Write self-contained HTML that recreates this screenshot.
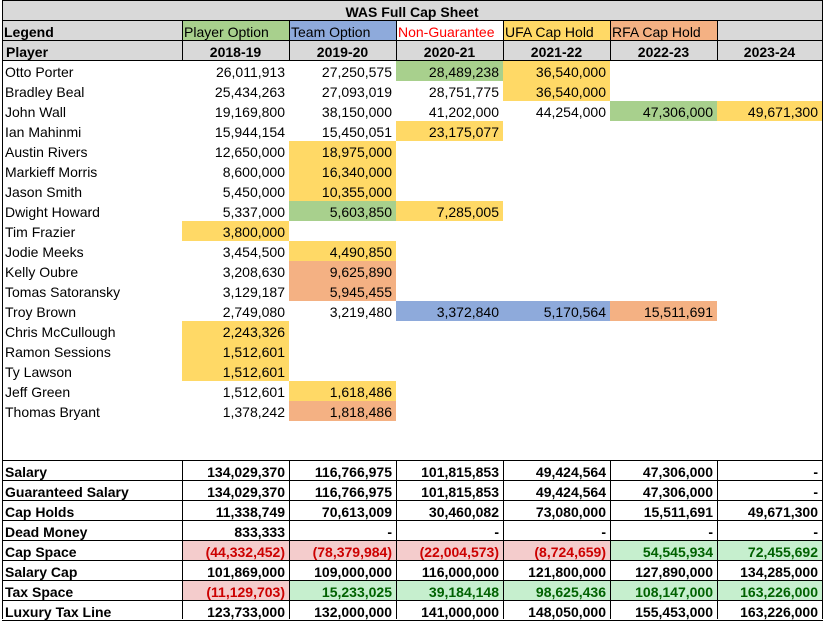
<!DOCTYPE html>
<html><head><meta charset="utf-8"><style>
body{margin:0;width:825px;height:619px;overflow:hidden;background:#fff;font-family:"Liberation Sans",Arial,sans-serif;font-size:14px;color:#000}
#sheet{position:absolute;left:0;top:0;width:825px;height:619px}
.c{position:absolute;box-sizing:border-box;height:20px;line-height:21px;padding:1px 4px 0 4px;white-space:nowrap;overflow:hidden}
.r{text-align:right}.ctr{text-align:center}.b{font-weight:bold}
.line{position:absolute;background:#000}
</style></head><body>
<div id="sheet"></div>
<script>
const colX=[2,182,289,396,503,610,717,822];
const seasons=["2018-19","2019-20","2020-21","2021-22","2022-23","2023-24"];
const players=["Otto Porter","Bradley Beal","John Wall","Ian Mahinmi","Austin Rivers","Markieff Morris","Jason Smith","Dwight Howard","Tim Frazier","Jodie Meeks","Kelly Oubre","Tomas Satoransky","Troy Brown","Chris McCullough","Ramon Sessions","Ty Lawson","Jeff Green","Thomas Bryant"];
const salaries=[
["26,011,913","27,250,575","28,489,238","36,540,000","",""],
["25,434,263","27,093,019","28,751,775","36,540,000","",""],
["19,169,800","38,150,000","41,202,000","44,254,000","47,306,000","49,671,300"],
["15,944,154","15,450,051","23,175,077","","",""],
["12,650,000","18,975,000","","","",""],
["8,600,000","16,340,000","","","",""],
["5,450,000","10,355,000","","","",""],
["5,337,000","5,603,850","7,285,005","","",""],
["3,800,000","","","","",""],
["3,454,500","4,490,850","","","",""],
["3,208,630","9,625,890","","","",""],
["3,129,187","5,945,455","","","",""],
["2,749,080","3,219,480","3,372,840","5,170,564","15,511,691",""],
["2,243,326","","","","",""],
["1,512,601","","","","",""],
["1,512,601","","","","",""],
["1,512,601","1,618,486","","","",""],
["1,378,242","1,818,486","","","",""]];
const statuses=[
"..GY..","...Y..","....GY","..Y...",".Y....",".Y....",".Y....",".GY...","Y.....",".Y....",".O....",".O....","..BBO.","Y.....","Y.....","Y.....",".Y....",".O...."];
const sumLabels=["Salary","Guaranteed Salary","Cap Holds","Dead Money","Cap Space","Salary Cap","Tax Space","Luxury Tax Line"];
const sumValues=[
["134,029,370","116,766,975","101,815,853","49,424,564","47,306,000","-"],
["134,029,370","116,766,975","101,815,853","49,424,564","47,306,000","-"],
["11,338,749","70,613,009","30,460,082","73,080,000","15,511,691","49,671,300"],
["833,333","-","-","-","-","-"],
["(44,332,452)","(78,379,984)","(22,004,573)","(8,724,659)","54,545,934","72,455,692"],
["101,869,000","109,000,000","116,000,000","121,800,000","127,890,000","134,285,000"],
["(11,129,703)","15,233,025","39,184,148","98,625,436","108,147,000","163,226,000"],
["123,733,000","132,000,000","141,000,000","148,050,000","155,453,000","163,226,000"]];
const fills={G:"#a8d08d",Y:"#ffd966",O:"#f4b183",B:"#8eaadb"};
const S=document.getElementById('sheet');
function cell(x,y,w,txt,cls,bg,color){
  const d=document.createElement('div');
  d.className='c '+(cls||'');
  d.style.left=x+'px';d.style.top=y+'px';d.style.width=w+'px';
  if(bg)d.style.background=bg;
  if(color)d.style.color=color;
  d.textContent=txt;
  S.appendChild(d);return d;
}
function line(x,y,w,h){
  const l=document.createElement('div');
  l.className='line';
  
  
  l.style.left=x+'px';l.style.top=y+'px';l.style.width=w+'px';l.style.height=h+'px';
  S.appendChild(l);
}
let t=cell(2,1,820,"WAS Full Cap Sheet","ctr b","#d9d9d9");


const legTxt=["Legend","Player Option","Team Option","Non-Guarantee","UFA Cap Hold","RFA Cap Hold",""];
const legBg=["#d9d9d9","#a8d08d","#8eaadb","#ffffff","#ffd966","#f4b183","#d9d9d9"];
for(let i=0;i<7;i++){
  const d=cell(colX[i],21,colX[i+1]-colX[i],legTxt[i],i==0?'b':'',legBg[i],i==3?'#ff0000':null);
  d.style.paddingLeft='2px';
  
  
}
let h=cell(2,41,180,"Player","b","#d9d9d9");


seasons.forEach((s,i)=>{
  const d=cell(colX[i+1],41,colX[i+2]-colX[i+1],s,"ctr b","#d9d9d9");
  
  
});
players.forEach((p,r)=>{
  const y=61+r*20;
  const n=cell(2,y,180,p,"");n.style.paddingLeft='3px';
  
  
  salaries[r].forEach((v,c)=>{
    const f=fills[statuses[r][c]];
    const d=cell(colX[c+1],y,colX[c+2]-colX[c+1],v,"r",f||null);
    
    
  });
});
sumLabels.forEach((lab,r)=>{
  const y=461+r*20;
  const n=cell(2,y,180,lab,"b");n.style.paddingLeft='3px';
  
  
  sumValues[r].forEach((v,c)=>{
    let bg=null,col=null;
    if(lab=="Cap Space"||lab=="Tax Space"){
      if(v.startsWith("(")){bg="#f4cccc";col="#cc0000";}else{bg="#c6efce";col="#006100";}
    }
    const d=cell(colX[c+1],y,colX[c+2]-colX[c+1],v,"r b",bg,col);
    
    
  });
});
line(2,0,821,1);line(2,20,821,1);line(2,40,821,1);line(2,60,821,1);
line(2,0,1,619);line(822,0,1,619);
for(let i=1;i<7;i++){line(colX[i],40,1,21);}
for(let i=1;i<7;i++){line(colX[i],21,1,20);}
for(let r=0;r<=8;r++){line(2,460+r*20,821,1);}
for(let i=1;i<7;i++){line(colX[i],460,1,159);}
</script>
</body></html>
